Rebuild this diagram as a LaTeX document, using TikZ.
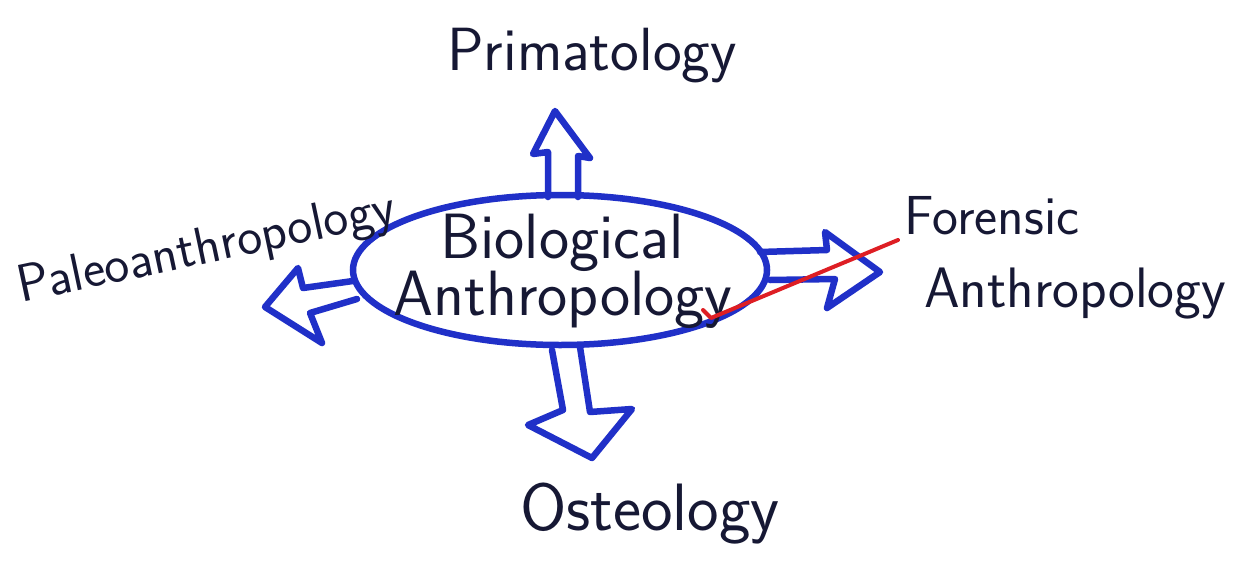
\documentclass[tikz,border=0pt]{standalone}
\usepackage{fontspec}
\usetikzlibrary{shapes.geometric}
\definecolor{pen}{RGB}{32,48,200}
\definecolor{ink}{RGB}{22,24,52}
\definecolor{redpen}{RGB}{222,30,36}
\tikzset{
  blockarrow/.style={draw=pen,line width=6.5pt,line join=round,line cap=round},
  lbl/.style={text=ink,inner sep=0pt,font=\sffamily},
  oval/.style={ellipse,draw=pen,line width=6.5pt,minimum width=414pt,minimum height=150pt,inner sep=0pt}
}
\begin{document}
\begin{tikzpicture}[x=1pt,y=-1pt]
\useasboundingbox[fill=white] (0,0) rectangle (1247,560);
\node[oval] (bio) at (560,270) {};
\node[lbl,font=\sffamily\fontsize{64}{70}\selectfont] (t1) at (562,243) {Biological};
\node[lbl,font=\sffamily\fontsize{64}{70}\selectfont] (t2) at (563,300) {Anthropology};
\node[lbl,font=\sffamily\fontsize{61}{66}\selectfont] (prim) at (592,56) {Primatology};
\node[lbl,font=\sffamily\fontsize{53}{58}\selectfont,rotate=12] (paleo) at (207,250) {Paleoanthropology};
\node[lbl,font=\sffamily\fontsize{55}{60}\selectfont] (foren) at (992,216) {Forensic};
\node[lbl,font=\sffamily\fontsize{57}{62}\selectfont] (fanth) at (1075,294) {Anthropology};
\node[lbl,font=\sffamily\fontsize{67}{72}\selectfont] (osteo) at (650,514) {Osteology};
% up arrow
\draw[blockarrow] (548,197) -- (548,152) -- (533,154) -- (555,111) -- (590,158) -- (578,156) -- (578,197);
% down arrow
\draw[blockarrow] (552,350) -- (563,410) -- (528,425) -- (592,458) -- (632,409) -- (590,412) -- (580,347);
% left arrow
\draw[blockarrow] (353,281) -- (303,288) -- (298,268) -- (265,307) -- (322,343) -- (310,313) -- (357,299);
% right arrow
\draw[blockarrow] (760,252) -- (827,250) -- (825,232) -- (880,272) -- (827,308) -- (835,279) -- (770,280);
% red line
\coordinate (r0) at (703,310);
\coordinate (r1) at (711,318);
\coordinate (r2) at (898,240);
\draw[redpen,line width=4pt,line cap=round,line join=round] (r0) -- (r1) -- (r2);
\end{tikzpicture}
\end{document}
